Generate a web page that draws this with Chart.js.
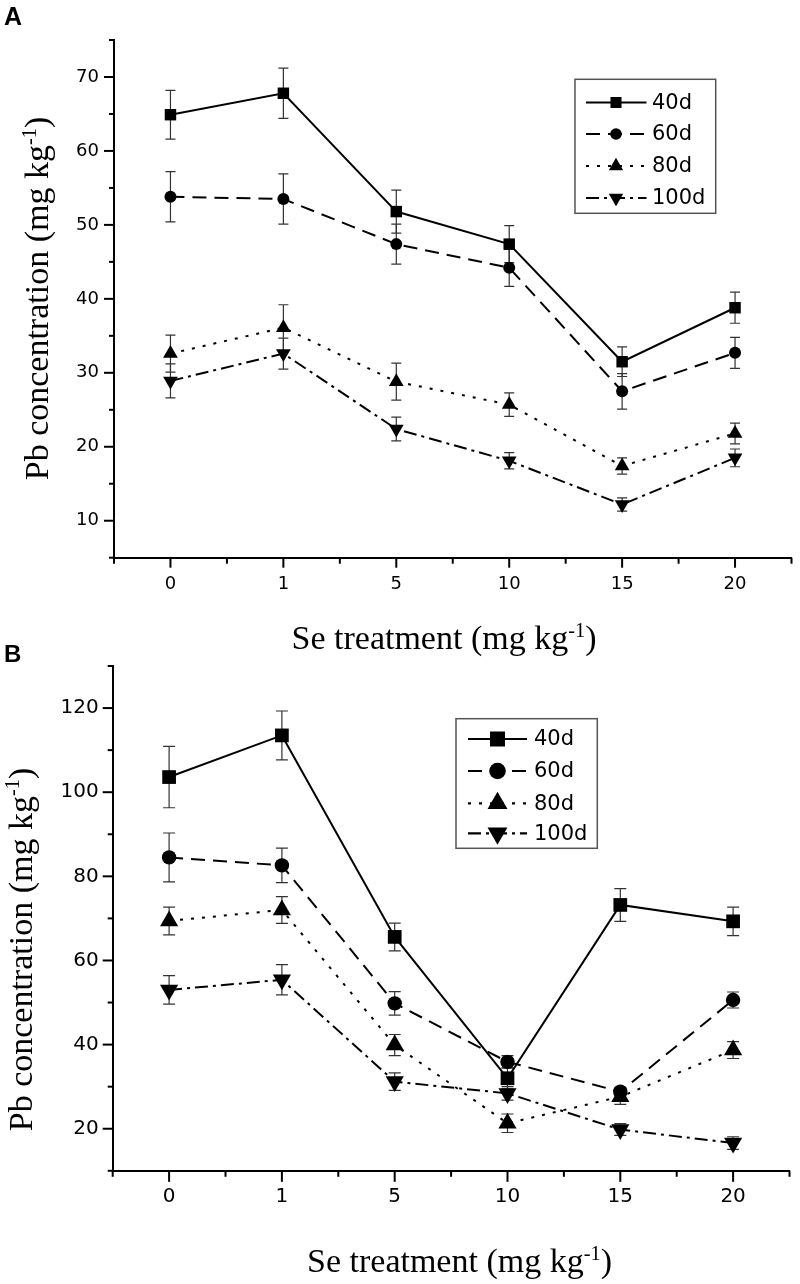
<!DOCTYPE html>
<html><head><meta charset="utf-8">
<script src="https://cdn.jsdelivr.net/npm/chart.js@4/dist/chart.umd.min.js"></script>
<style>
html,body{margin:0;padding:0;background:#fff;}
body{width:800px;height:1284px;position:relative;overflow:hidden;}
canvas{position:absolute;left:0;}
#cA{top:0;} #cB{top:640px;}
</style></head><body>
<canvas id="cA" width="800" height="664"></canvas>
<canvas id="cB" width="800" height="644"></canvas>
<script>
// ---------- data ----------
const categories = ['0', '1', '5', '10', '15', '20'];
const seriesLabels = ['40d', '60d', '80d', '100d'];

// Panel A
const A_40d  = [64.9, 67.8, 51.8, 47.4, 31.5, 38.8];
const A_60d  = [53.8, 53.5, 47.4, 44.2, 27.5, 32.7];
const A_80d  = [32.6, 36.1, 28.8, 25.7, 17.4, 21.8];
const A_100d = [28.9, 32.6, 22.4, 18.1, 12.2, 18.5];
const A_40d_err  = [3.3, 3.4, 2.9, 2.5, 2.0, 2.1];
const A_60d_err  = [3.4, 3.4, 2.7, 2.5, 2.4, 2.1];
const A_80d_err  = [2.5, 3.1, 2.5, 1.6, 1.1, 1.4];
const A_100d_err = [2.3, 2.1, 1.6, 1.1, 0.9, 1.2];

// Panel B
const B_40d  = [103.6, 113.5, 65.6, 32.0, 73.2, 69.3];
const B_60d  = [84.5, 82.6, 49.8, 35.9, 28.8, 50.6];
const B_80d  = [69.4, 72.0, 39.9, 21.3, 27.6, 38.7];
const B_100d = [53.0, 55.4, 31.2, 28.4, 19.8, 16.6];
const B_40d_err  = [7.3, 5.8, 3.3, 2.5, 3.9, 3.4];
const B_60d_err  = [5.8, 4.1, 2.8, 1.5, 1.0, 1.9];
const B_80d_err  = [3.3, 3.2, 2.5, 2.2, 1.8, 2.0];
const B_100d_err = [3.4, 3.6, 2.1, 1.6, 1.4, 1.5];

// axis ranges
const A_yMin = 5, A_yMax = 75, A_yStep = 5, A_yLabelStep = 10;
const B_yMin = 10, B_yMax = 130, B_yStep = 10, B_yLabelStep = 20;

// titles
const X_TITLE = [{t: 'Se treatment (mg kg'}, {t: '-1', sup: true}, {t: ')'}];
const Y_TITLE = [{t: 'Pb concentration (mg kg'}, {t: '-1', sup: true}, {t: ')'}];

// ---------- styling ----------
Chart.defaults.color = '#000';
Chart.defaults.animation = false;
const SANS = "'Liberation Sans', Arial, sans-serif";
const WIDE = "'DejaVu Sans', sans-serif";
const SERIF = "'Liberation Serif', 'Times New Roman', serif";

const STYLES = [
  {pointStyle: 'rect', rotation: 0, dash: []},
  {pointStyle: 'circle', rotation: 0, dash: [14, 8]},
  {pointStyle: 'triangle', rotation: 0, dash: [3, 8]},
  {pointStyle: 'triangle', rotation: 180, dash: [13, 5, 3, 5]},
];

function buildDatasets(vals, errs, radii) {
  return vals.map((v, k) => ({
    label: seriesLabels[k],
    data: v.map((y, i) => ({x: i, y: y})),
    errorBars: errs[k],
    borderColor: '#000', backgroundColor: '#000',
    pointBackgroundColor: '#000', pointBorderColor: '#000', pointBorderWidth: 0,
    pointStyle: STYLES[k].pointStyle, pointRotation: STYLES[k].rotation,
    pointRadius: radii[k], pointHoverRadius: radii[k],
    borderWidth: 2, borderDash: STYLES[k].dash, tension: 0, fill: false, clip: false
  }));
}

function drawRich(ctx, parts, size, family) {
  let total = 0;
  const pieces = parts.map(p => {
    const s = p.sup ? size * 0.6 : size;
    ctx.font = s + 'px ' + family;
    const w = ctx.measureText(p.t).width;
    total += w;
    return {p, s, w};
  });
  let x = -total / 2;
  ctx.textAlign = 'left'; ctx.textBaseline = 'alphabetic';
  pieces.forEach(({p, s, w}) => {
    ctx.font = s + 'px ' + family;
    ctx.fillText(p.t, x, p.sup ? -size * 0.36 : 0);
    x += w;
  });
}

function decorPlugin(P) {
  return {
    id: 'decor',
    beforeDatasetsDraw(chart) {
      const ctx = chart.ctx, xs = chart.scales.x, ys = chart.scales.y;
      ctx.save();
      ctx.strokeStyle = '#333'; ctx.lineWidth = 1.2; ctx.setLineDash([]);
      chart.data.datasets.forEach(ds => {
        ds.data.forEach((pt, i) => {
          const e = ds.errorBars[i];
          const px = xs.getPixelForValue(pt.x);
          const t = ys.getPixelForValue(pt.y + e), b = ys.getPixelForValue(pt.y - e);
          ctx.beginPath();
          ctx.moveTo(px, t); ctx.lineTo(px, b);
          ctx.moveTo(px - P.cap, t); ctx.lineTo(px + P.cap, t);
          ctx.moveTo(px - P.cap, b); ctx.lineTo(px + P.cap, b);
          ctx.stroke();
        });
      });
      ctx.restore();
    },
    afterDraw(chart) {
      const ctx = chart.ctx, xs = chart.scales.x, ys = chart.scales.y;
      const ca = chart.chartArea;
      ctx.save();
      // tick marks
      ctx.strokeStyle = '#000'; ctx.lineWidth = 2; ctx.setLineDash([]);
      xs.ticks.forEach(t => {
        const px = xs.getPixelForValue(t.value);
        const len = Number.isInteger(t.value) ? P.xMajor : P.xMinor;
        ctx.beginPath(); ctx.moveTo(px, ca.bottom); ctx.lineTo(px, ca.bottom + len); ctx.stroke();
      });
      ys.ticks.forEach(t => {
        const py = ys.getPixelForValue(t.value);
        const len = (t.value % P.yLabelStep === 0) ? P.yMajor : P.yMinor;
        ctx.beginPath(); ctx.moveTo(ca.left, py); ctx.lineTo(ca.left - len, py); ctx.stroke();
      });
      // legend
      const L = P.legend;
      ctx.strokeStyle = '#555'; ctx.lineWidth = 1.5;
      ctx.strokeRect(L.box[0], L.box[1], L.box[2] - L.box[0], L.box[3] - L.box[1]);
      chart.data.datasets.forEach((ds, k) => {
        const y = L.rows[k];
        ctx.strokeStyle = '#000'; ctx.lineWidth = 2.2;
        ctx.setLineDash(ds.borderDash || []);
        ctx.beginPath(); ctx.moveTo(L.line[0], y); ctx.lineTo(L.line[1], y); ctx.stroke();
        ctx.setLineDash([]);
        ctx.fillStyle = '#000';
        Chart.helpers.drawPoint(ctx, {pointStyle: ds.pointStyle, rotation: ds.pointRotation || 0,
          radius: L.radii[k], borderWidth: 0}, L.mark, y);
        ctx.font = L.font + 'px ' + WIDE;
        ctx.textAlign = 'left'; ctx.textBaseline = 'middle';
        ctx.fillText(ds.label, L.text, y + 1);
      });
      // titles
      ctx.fillStyle = '#000';
      ctx.save();
      ctx.translate(P.xTitle[0], P.xTitle[1]);
      drawRich(ctx, X_TITLE, P.titleSize, SERIF);
      ctx.restore();
      ctx.save();
      ctx.translate(P.yTitle[0], P.yTitle[1]);
      ctx.rotate(-Math.PI / 2);
      drawRich(ctx, Y_TITLE, P.titleSize, SERIF);
      ctx.restore();
      // panel letter
      ctx.font = 'bold ' + P.letter.size + 'px ' + SANS;
      ctx.textAlign = 'left'; ctx.textBaseline = 'alphabetic';
      ctx.fillText(P.letter.t, P.letter.x, P.letter.y);
      ctx.restore();
    }
  };
}

function makeChart(id, P, datasets) {
  return new Chart(document.getElementById(id), {
    type: 'line',
    data: {datasets},
    options: {
      responsive: false, maintainAspectRatio: false, animation: false,
      layout: {padding: {left: 0, top: P.top, right: P.right, bottom: 0}},
      plugins: {legend: {display: false}, tooltip: {enabled: false}},
      scales: {
        x: {
          type: 'linear', min: -0.5, max: 5.5,
          afterFit(s) { s.height = P.xHeight; },
          grid: {display: true, drawOnChartArea: false, drawTicks: true, tickLength: 10, tickColor: 'rgba(0,0,0,0)'},
          border: {display: true, color: '#000', width: 2},
          ticks: {stepSize: 0.5, autoSkip: false, maxRotation: 0, minRotation: 0, padding: P.xPad,
            font: {family: WIDE, size: P.tickSize}, color: '#000',
            callback: v => Number.isInteger(v) && v >= 0 && v < categories.length ? categories[v] : ''}
        },
        y: {
          type: 'linear', min: P.yMin, max: P.yMax,
          afterFit(s) { s.width = P.yWidth; },
          grid: {display: true, drawOnChartArea: false, drawTicks: true, tickLength: 10, tickColor: 'rgba(0,0,0,0)'},
          border: {display: true, color: '#000', width: 2},
          ticks: {stepSize: P.yStep, autoSkip: false, padding: P.yPad,
            font: {family: WIDE, size: P.tickSize}, color: '#000',
            callback: v => (v % P.yLabelStep === 0 ? String(v) : '')}
        }
      }
    },
    plugins: [decorPlugin(P)]
  });
}

const PA = {
  top: 40, right: 5.6, yWidth: 114, xHeight: 664 - 557.7,
  yMin: A_yMin, yMax: A_yMax, yStep: A_yStep, yLabelStep: A_yLabelStep,
  tickSize: 18, xPad: 6, yPad: 5, cap: 5, xMajor: 10, xMinor: 6, yMajor: 10, yMinor: 5,
  legend: {box: [575, 79.3, 715.7, 213.3], line: [586, 646.5], mark: 616, text: 652,
    rows: [102.5, 134, 166, 198], radii: [7.8, 5.8, 8.3, 8.3], font: 21},
  titleSize: 34, xTitle: [444, 649], yTitle: [48, 298.5],
  letter: {t: 'A', x: 4, y: 25, size: 25}
};
const PB = {
  top: 26, right: 7.7, yWidth: 112.7, xHeight: 644 - 530.8,
  yMin: B_yMin, yMax: B_yMax, yStep: B_yStep, yLabelStep: B_yLabelStep,
  tickSize: 20, xPad: 4, yPad: 4, cap: 6, xMajor: 11, xMinor: 6, yMajor: 10, yMinor: 5,
  legend: {box: [456, 78.7, 597.3, 208.3], line: [468, 527], mark: 497.5, text: 534,
    rows: [99, 131, 163.3, 193.3], radii: [10.6, 8.3, 11.5, 11.5], font: 21},
  titleSize: 34, xTitle: [459.5, 632], yTitle: [31.7, 309.5],
  letter: {t: 'B', x: 4, y: 22, size: 24}
};

makeChart('cA', PA, buildDatasets([A_40d, A_60d, A_80d, A_100d],
  [A_40d_err, A_60d_err, A_80d_err, A_100d_err], [8.1, 6, 8.5, 8.5]));
makeChart('cB', PB, buildDatasets([B_40d, B_60d, B_80d, B_100d],
  [B_40d_err, B_60d_err, B_80d_err, B_100d_err], [9.7, 7.2, 10.5, 10.5]));
</script>
</body></html>
